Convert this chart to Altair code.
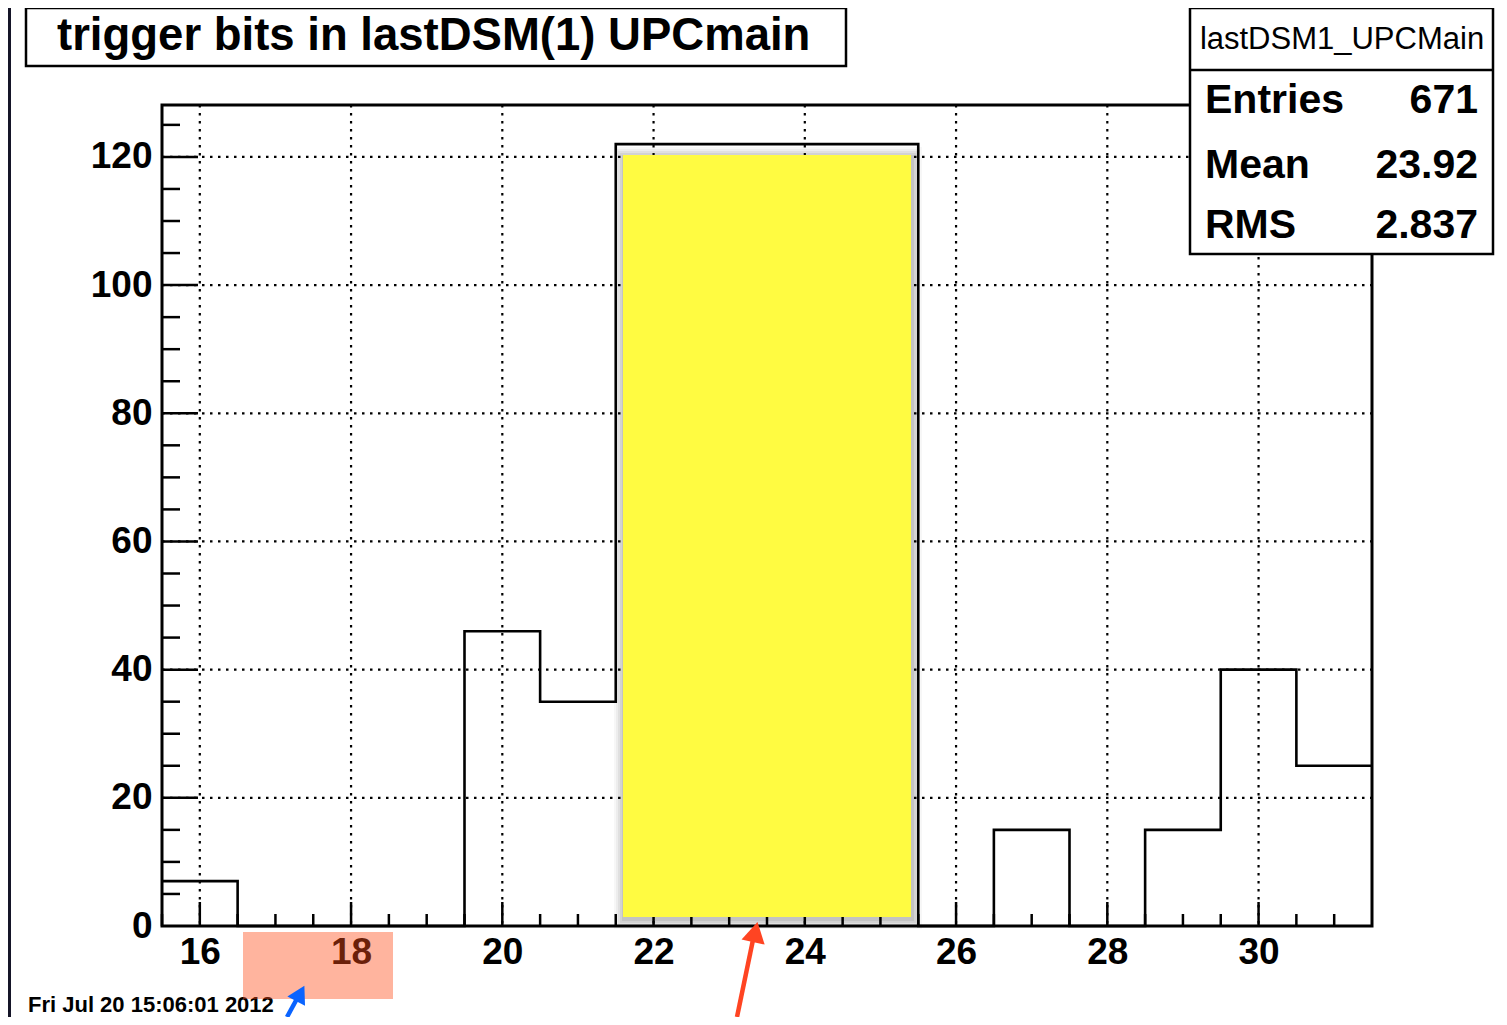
import altair as alt
import pandas as pd

# ---------------- data ----------------
bin_centers = [16, 17, 18, 19, 20, 21, 22, 23, 24, 25, 26, 27, 28, 29, 30, 31]
counts = [7, 0, 0, 0, 46, 35, 122, 122, 122, 122, 0, 15, 0, 15, 40, 25]
x_tick_labels = [16, 18, 20, 22, 24, 26, 28, 30]
y_tick_labels = [0, 20, 40, 60, 80, 100, 120]
x_minor_ticks = [v / 2 for v in range(31, 63) if v % 4 != 0]
y_minor_ticks = [v for v in range(5, 130, 5) if v % 20 != 0]
title_text = "trigger bits in lastDSM(1) UPCmain"
hist_name = "lastDSM1_UPCMain"
stats_names = ["Entries", "Mean", "RMS"]
stats_values = ["671", "23.92", "2.837"]
date_text = "Fri Jul 20 15:06:01 2012"

# ---------------- layout ----------------
W, H = 1210, 821
PAD_L, PAD_T = 154, 97
TOTAL_W, TOTAL_H = 1491, 1009
FONT = "Liberation Sans"
XDOM = [15.5, 31.5]
YDOM = [0, 128.1]
BOTTOM = TOTAL_H - PAD_T  # chart-bottom in plot pixel coords

xscale = alt.Scale(domain=XDOM, nice=False, zero=False)
yscale = alt.Scale(domain=YDOM, nice=False, zero=False)
xaxis = alt.Axis(values=x_tick_labels, title=None, ticks=False, domain=False, grid=False,
                 labelFont=FONT, labelFontWeight="bold", labelFontSize=37, labelPadding=8,
                 labelColor="black", labelFlush=False, labelOverlap=False, format="d")
yaxis = alt.Axis(values=y_tick_labels, title=None, ticks=False, domain=False, grid=False,
                 labelFont=FONT, labelFontWeight="bold", labelFontSize=37, labelPadding=10,
                 labelColor="black", labelFlush=False, labelOverlap=False, format="d")


def X(f):
    return alt.X(f, type="quantitative", scale=xscale, axis=xaxis)


def Y(f):
    return alt.Y(f, type="quantitative", scale=yscale, axis=yaxis)


one = pd.DataFrame({"k": [0]})

edges = [c - 0.5 for c in bin_centers] + [bin_centers[-1] + 0.5]
hist_df = pd.DataFrame({"edge": edges, "count": counts + [counts[-1]]})

layers = []

# grid
gx = pd.DataFrame({"v": x_tick_labels})
gy = pd.DataFrame({"v": y_tick_labels[1:]})
layers.append(alt.Chart(gx).mark_rule(color="black", strokeWidth=2.2, strokeDash=[2.5, 5.5]).encode(
    x=X("v"), y=alt.value(0), y2=alt.value(H)))
layers.append(alt.Chart(gy).mark_rule(color="black", strokeWidth=2.2, strokeDash=[2.5, 5.5]).encode(
    y=Y("v"), x=alt.value(0), x2=alt.value(W)))

# histogram outline
layers.append(alt.Chart(hist_df).mark_line(interpolate="step-after", color="black", strokeWidth=2.6).encode(
    x=X("edge"), y=Y("count")))

# inward ticks
layers.append(alt.Chart(pd.DataFrame({"v": y_tick_labels[1:]})).mark_rule(color="black", strokeWidth=2.5).encode(
    y=Y("v"), x=alt.value(0), x2=alt.value(36)))
layers.append(alt.Chart(pd.DataFrame({"v": y_minor_ticks})).mark_rule(color="black", strokeWidth=2.5).encode(
    y=Y("v"), x=alt.value(0), x2=alt.value(18)))
layers.append(alt.Chart(pd.DataFrame({"v": x_tick_labels})).mark_rule(color="black", strokeWidth=2.5).encode(
    x=X("v"), y=alt.value(H), y2=alt.value(H - 24)))
layers.append(alt.Chart(pd.DataFrame({"v": x_minor_ticks})).mark_rule(color="black", strokeWidth=2.5).encode(
    x=X("v"), y=alt.value(H), y2=alt.value(H - 12)))


def rect(x, x2, y, y2, **kw):
    return alt.Chart(one).mark_rect(**kw).encode(
        x=alt.value(x), x2=alt.value(x2), y=alt.value(y), y2=alt.value(y2))


def text(s, x, y, **kw):
    return alt.Chart(one).mark_text(text=s, font=FONT, color="black", baseline="alphabetic", **kw).encode(
        x=alt.value(x), y=alt.value(y))


def rule(x, y, x2, y2, **kw):
    return alt.Chart(one).mark_rule(**kw).encode(
        x=alt.value(x), y=alt.value(y), x2=alt.value(x2), y2=alt.value(y2))


# sticky note shadow + note
for k, op in [(10, 0.03), (8, 0.04), (6, 0.05), (4, 0.06), (2, 0.07)]:
    layers.append(rect(461 - k + 1, 749 + k + 1, 50 - k + 2, 812 + k + 2, color="black", opacity=op))
layers.append(rect(461, 749, 50, 812, color="#FFFB41"))

# title box
layers.append(rect(-136, 684, -97, -39, fill="white", stroke="black", strokeWidth=2.5))
layers.append(text(title_text, -105, -55, align="left", fontSize=45.5, fontWeight="bold"))

# stats box
layers.append(rect(1028, 1331, -97, 149, fill="white", stroke="black", strokeWidth=2.5))
layers.append(rule(1028, -35, 1331, -35, color="black", strokeWidth=2.5))
layers.append(text(hist_name, 1180, -56, align="center", fontSize=31))
for name, val, yb in zip(stats_names, stats_values, [8, 73, 133]):
    layers.append(text(name, 1043, yb, align="left", fontSize=41, fontWeight="bold"))
    layers.append(text(val, 1316, yb, align="right", fontSize=41, fontWeight="bold"))

# date
layers.append(text(date_text, -134, 907, align="left", fontSize=22, fontWeight="bold"))

# salmon highlight
layers.append(rect(81, 231, 827, 894, color="#FF4C18", opacity=0.42))

# left dark strip (slide border)
layers.append(rect(-154, -151, -97, BOTTOM, color="#151528"))

# red arrow
layers.append(rule(575, BOTTOM, 592, 830, color="#FF4422", strokeWidth=4.5))
layers.append(alt.Chart(one).mark_point(shape="triangle-up", filled=True, size=560, angle=12.4,
                                        color="#FF4422", opacity=1).encode(
    x=alt.value(593.3), y=alt.value(827)))

# blue arrow
layers.append(rule(125, BOTTOM, 137, 890, color="#0A64FF", strokeWidth=4.5))
layers.append(alt.Chart(one).mark_point(shape="triangle-up", filled=True, size=400, angle=28.2,
                                        color="#0A64FF", opacity=1).encode(
    x=alt.value(138.3), y=alt.value(888.5)))

chart = alt.layer(*layers).properties(
    width=W, height=H,
    autosize=alt.AutoSizeParams(type="none"),
    padding={"left": PAD_L, "top": PAD_T,
             "right": TOTAL_W - PAD_L - W, "bottom": TOTAL_H - PAD_T - H},
    background="white",
).configure_view(stroke="black", strokeWidth=3)

chart.save("out.html", embed_options={"renderer": "svg", "actions": False})
